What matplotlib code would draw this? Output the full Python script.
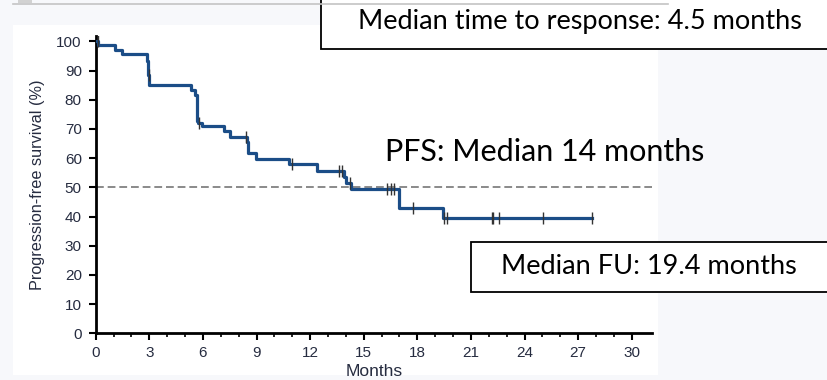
import matplotlib
matplotlib.use('Agg')
import numpy as np
import matplotlib.pyplot as plt
from matplotlib.patches import Rectangle
from matplotlib.lines import Line2D

# Kaplan-Meier steps: time of event (months) and survival after it (%)
event_times = [0.15, 1.08, 1.45, 2.85, 2.95, 3.0, 5.35, 5.55, 5.65, 5.75, 5.93,
               7.2, 7.52, 8.45, 8.55, 8.98, 10.8, 12.4, 13.87, 14.0, 14.28,
               17.0, 19.46]
event_surv = [98.6, 97.0, 95.5, 93.3, 88.3, 85.0, 83.3, 81.7, 72.6, 72.0, 71.0,
              69.2, 67.3, 65.4, 61.8, 59.6, 57.9, 55.7, 53.6, 51.6, 49.3,
              43.0, 39.6]
censor_times = [0.12, 2.97, 5.8, 8.4, 11.0, 13.64, 13.8, 14.25, 16.29, 16.53,
                16.7, 17.75, 19.52, 19.65, 22.17, 22.26, 22.58, 25.03, 27.77]
last_follow_up = 27.77

x_ticks = [0, 3, 6, 9, 12, 15, 18, 21, 24, 27, 30]
y_ticks = [0, 10, 20, 30, 40, 50, 60, 70, 80, 90, 100]
median_line = 50

label_x = 'Months'
label_y = 'Progression-free survival (%)'
pfs_note = 'PFS: Median 14 months'
response_note = 'Median time to response: 4.5 months'
followup_note = 'Median FU: 19.4 months'

W, H = 827, 380
fig = plt.figure(figsize=(W / 100, H / 100), dpi=100)
fig.patch.set_facecolor('#f7f8fb')


def fx(px):
    return px / W


def fy(py):
    return 1 - py / H


# white slide panel behind the plot
fig.add_artist(Rectangle((fx(13), fy(375)), fx(658) - fx(13), fy(25) - fy(375),
                         transform=fig.transFigure, facecolor='white',
                         edgecolor='none', zorder=0))
fig.add_artist(Line2D([fx(13), fx(668)], [fy(4), fy(4)], transform=fig.transFigure,
                      color='#c4c4c4', lw=1.2))
fig.add_artist(Rectangle((fx(18), fy(3)), fx(14), fy(0) - fy(3),
                         transform=fig.transFigure, facecolor='#d2d2d2',
                         edgecolor='none'))

ax = fig.add_axes([fx(95.7), fy(333.3), fx(652.3) - fx(95.7), fy(35.5) - fy(333.3)])
ax.set_facecolor('none')

t = np.concatenate([[0], event_times, [last_follow_up]])
s = np.concatenate([[100], event_surv, [event_surv[-1]]])
ax.step(t, s, where='post', color='#1b4d87', lw=2.3, zorder=3)

idx = np.searchsorted(t, censor_times, side='right') - 1
ax.plot(censor_times, s[idx], ls='none', marker='|', ms=9, mew=1.0,
        color='#333333', zorder=4)

ax.axhline(median_line, color='#8a8a8a', lw=1.4, ls=(0, (4, 2)), zorder=2)

ax.set_xlim(0, 31.15)
ax.set_ylim(0, 102)
ax.set_xticks(x_ticks)
ax.set_xticks(np.arange(0, 31, 1), minor=True)
ax.set_yticks(y_ticks)
for side in ['top', 'right']:
    ax.spines[side].set_visible(False)
for side in ['left', 'bottom']:
    ax.spines[side].set_linewidth(2.0)
    ax.spines[side].set_color('black')
ax.tick_params(axis='both', which='major', direction='out', length=5, width=1.5,
               color='black', labelsize=11, labelcolor='#262c40')
ax.tick_params(axis='y', which='major', pad=5)
ax.tick_params(axis='x', which='major', pad=4)
ax.tick_params(axis='x', which='minor', direction='out', length=3, width=1.2,
               color='black')
for lab in ax.get_xticklabels() + ax.get_yticklabels():
    lab.set_family('Liberation Sans')

ax.set_xlabel(label_x, fontsize=12.5, color='#262c40', family='Liberation Sans',
              labelpad=3)
ax.set_ylabel(label_y, fontsize=11.7, color='#262c40',
              family=['Liberation Sans Narrow', 'Liberation Sans'], labelpad=8)

note_font = ['Lato', 'DejaVu Sans']
fig.text(fx(385), fy(152), pfs_note, fontsize=22, family=note_font,
         ha='left', va='center', color='black')

fig.add_artist(Rectangle((fx(320.5), fy(49)), fx(900) - fx(320.5), fy(-5) - fy(49),
                         transform=fig.transFigure, facecolor='white',
                         edgecolor='black', lw=1.3, zorder=1))
fig.text(fx(580), fy(22), response_note, fontsize=19.5, family=note_font,
         ha='center', va='center', color='black')

fig.add_artist(Rectangle((fx(470.7), fy(291.7)), fx(900) - fx(470.7), fy(241.7) - fy(291.7),
                         transform=fig.transFigure, facecolor='white',
                         edgecolor='black', lw=1.3, zorder=1))
fig.text(fx(649), fy(266), followup_note, fontsize=19.5, family=note_font,
         ha='center', va='center', color='black')

fig.savefig('out.png', dpi=100, facecolor=fig.get_facecolor())
